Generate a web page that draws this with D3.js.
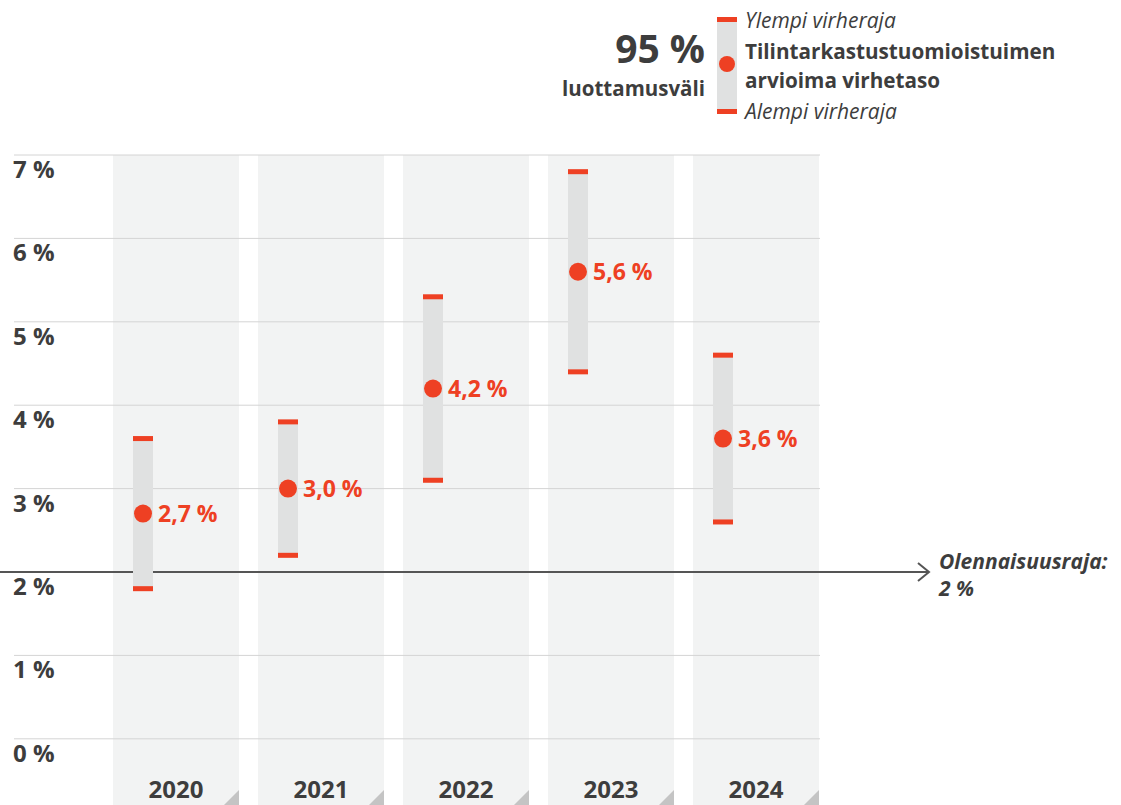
<!DOCTYPE html>
<html>
<head>
<meta charset="utf-8">
<script src="https://cdn.jsdelivr.net/npm/d3@7"></script>
<style>
  body { margin: 0; background: #fff; }
  svg { font-family: "Open Sans", sans-serif; }
</style>
</head>
<body>
<script>
// data
var years = ["2020", "2021", "2022", "2023", "2024"];
var estimate = [2.7, 3.0, 4.2, 5.6, 3.6];
var upper = [3.6, 3.8, 5.3, 6.8, 4.6];
var lower = [1.8, 2.2, 3.1, 4.4, 2.6];
var ticks = [0, 1, 2, 3, 4, 5, 6, 7];
var threshold = 2;

var width = 1121, height = 805;
var red = "#ee4023", dark = "#3d3d3d";

var svg = d3.select("body").append("svg")
    .attr("width", width)
    .attr("height", height);

var y = d3.scaleLinear().domain([0, 7]).range([738.8, 155]);
var x = d3.scaleBand().domain(years).range([113, 819]).paddingInner(19 / 145).paddingOuter(0);

var fmt = function (v) { return v.toFixed(1).replace(".", ",") + " %"; };

// column backgrounds
var cols = svg.append("g");
cols.selectAll("rect")
    .data(years)
    .enter().append("rect")
    .attr("x", function (d) { return x(d); })
    .attr("y", y(7))
    .attr("width", x.bandwidth())
    .attr("height", height - y(7))
    .attr("fill", "#f2f3f3");

// little corner triangles at the bottom
cols.selectAll("path")
    .data(years)
    .enter().append("path")
    .attr("d", function (d) {
        var r = x(d) + x.bandwidth();
        return "M" + r + "," + (height - 15) + "L" + r + "," + height + "L" + (r - 15) + "," + height + "Z";
    })
    .attr("fill", "#c4c4c4");

// gridlines + labels
var grid = svg.append("g");
grid.selectAll("line")
    .data(ticks)
    .enter().append("line")
    .attr("x1", 14).attr("x2", 820)
    .attr("y1", function (d) { return y(d); })
    .attr("y2", function (d) { return y(d); })
    .attr("stroke", "#d4d4d4")
    .attr("stroke-width", 1);

grid.selectAll("text")
    .data(ticks)
    .enter().append("text")
    .attr("x", 13)
    .attr("y", function (d) { return y(d) + 23; })
    .attr("fill", dark)
    .attr("font-size", 24)
    .attr("font-weight", 700)
    .text(function (d) { return d + " %"; });

// year labels
svg.append("g").selectAll("text")
    .data(years)
    .enter().append("text")
    .attr("x", function (d) { return x(d) + x.bandwidth() / 2; })
    .attr("y", 798)
    .attr("text-anchor", "middle")
    .attr("fill", dark)
    .attr("font-size", 24)
    .attr("font-weight", 700)
    .text(function (d) { return d; });

// threshold arrow
var arrowY = y(threshold);
svg.append("line")
    .attr("x1", 0).attr("x2", 928)
    .attr("y1", arrowY).attr("y2", arrowY)
    .attr("stroke", "#555")
    .attr("stroke-width", 2);
svg.append("path")
    .attr("d", "M" + 918 + "," + (arrowY - 9) + "L" + 929 + "," + arrowY + "L" + 918 + "," + (arrowY + 9))
    .attr("fill", "none")
    .attr("stroke", "#555")
    .attr("stroke-width", 2);
svg.append("text")
    .attr("x", 939).attr("y", arrowY - 3)
    .attr("fill", dark)
    .attr("font-size", 21)
    .attr("font-weight", 700)
    .attr("font-style", "italic")
    .text("Olennaisuusraja:");
svg.append("text")
    .attr("x", 939).attr("y", arrowY + 24)
    .attr("fill", dark)
    .attr("font-size", 21)
    .attr("font-weight", 700)
    .attr("font-style", "italic")
    .text("2 %");

// error bars
var cx = function (i) { return x(years[i]) + 30; };
var bars = svg.append("g");
var idx = d3.range(years.length);

bars.selectAll(".range")
    .data(idx)
    .enter().append("rect")
    .attr("x", function (i) { return cx(i) - 10; })
    .attr("y", function (i) { return y(upper[i]); })
    .attr("width", 20)
    .attr("height", function (i) { return y(lower[i]) - y(upper[i]); })
    .attr("fill", "#e0e1e1");

bars.selectAll(".capU")
    .data(idx)
    .enter().append("rect")
    .attr("x", function (i) { return cx(i) - 10; })
    .attr("y", function (i) { return y(upper[i]) - 2.5; })
    .attr("width", 20).attr("height", 5)
    .attr("fill", red);

bars.selectAll(".capL")
    .data(idx)
    .enter().append("rect")
    .attr("x", function (i) { return cx(i) - 10; })
    .attr("y", function (i) { return y(lower[i]) - 2.5; })
    .attr("width", 20).attr("height", 5)
    .attr("fill", red);

bars.selectAll("circle")
    .data(idx)
    .enter().append("circle")
    .attr("cx", function (i) { return cx(i); })
    .attr("cy", function (i) { return y(estimate[i]); })
    .attr("r", 9)
    .attr("fill", red);

bars.selectAll("text")
    .data(idx)
    .enter().append("text")
    .attr("x", function (i) { return cx(i) + 15; })
    .attr("y", function (i) { return y(estimate[i]) + 8; })
    .attr("fill", red)
    .attr("font-size", 23)
    .attr("font-weight", 700)
    .text(function (i) { return fmt(estimate[i]); });

// legend
var lg = svg.append("g");
lg.append("text")
    .attr("x", 705).attr("y", 63)
    .attr("text-anchor", "end")
    .attr("fill", dark)
    .attr("font-size", 39)
    .attr("font-weight", 700)
    .text("95 %");
lg.append("text")
    .attr("x", 705).attr("y", 96)
    .attr("text-anchor", "end")
    .attr("fill", dark)
    .attr("font-size", 20.5)
    .attr("font-weight", 700)
    .text("luottamusväli");
lg.append("rect")
    .attr("x", 717).attr("y", 19)
    .attr("width", 20).attr("height", 92)
    .attr("fill", "#e0e1e1");
lg.append("rect")
    .attr("x", 717).attr("y", 17)
    .attr("width", 20).attr("height", 5)
    .attr("fill", red);
lg.append("rect")
    .attr("x", 717).attr("y", 109)
    .attr("width", 20).attr("height", 5)
    .attr("fill", red);
lg.append("circle")
    .attr("cx", 727).attr("cy", 64)
    .attr("r", 8)
    .attr("fill", red);
lg.append("text")
    .attr("x", 745).attr("y", 28)
    .attr("fill", dark)
    .attr("font-size", 21)
    .attr("font-style", "italic")
    .text("Ylempi virheraja");
lg.append("text")
    .attr("x", 745).attr("y", 59)
    .attr("fill", dark)
    .attr("font-size", 20.7)
    .attr("font-weight", 700)
    .text("Tilintarkastustuomioistuimen");
lg.append("text")
    .attr("x", 745).attr("y", 88)
    .attr("fill", dark)
    .attr("font-size", 20.7)
    .attr("font-weight", 700)
    .text("arvioima virhetaso");
lg.append("text")
    .attr("x", 745).attr("y", 119)
    .attr("fill", dark)
    .attr("font-size", 21)
    .attr("font-style", "italic")
    .text("Alempi virheraja");
</script>
</body>
</html>
